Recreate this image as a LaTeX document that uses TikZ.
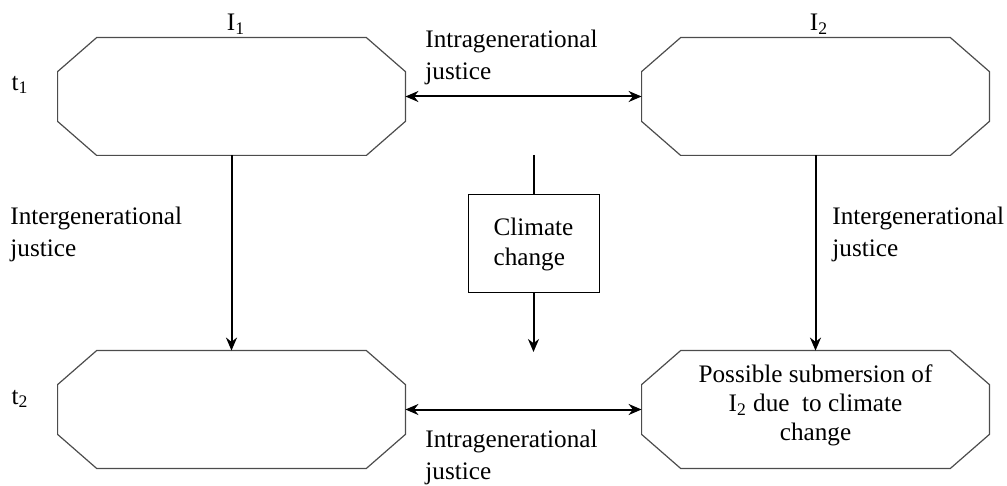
\documentclass[tikz,border=0pt]{standalone}
\usepackage{fontspec}
\setmainfont{Liberation Serif}
\usetikzlibrary{arrows.meta}

\begin{document}
\begin{tikzpicture}[x=0.5pt,y=-0.5pt]
	% Stiler for elementene
	\tikzstyle{generasjon}	= [rectangle, minimum width=173.5pt, minimum height=58.5pt, inner sep=0pt, align=center, font=\fontsize{12.6}{14.5}\selectfont]
	\tikzstyle{ramme}		= [draw=black!70, line width=0.6pt]
	\tikzstyle{klima}		= [rectangle, draw, line width=0.5pt, minimum width=65.5pt, minimum height=49pt, align=left, font=\fontsize{12.6}{15}\selectfont]
	\tikzstyle{tekst}		= [align=left, inner sep=0pt, font=\fontsize{12.6}{16}\selectfont]
	\tikzstyle{pil}			= [line width=1pt, {Stealth[length=6.5pt,width=5.5pt]}-{Stealth[length=6.5pt,width=5.5pt]}]
	\tikzstyle{enpil}		= [line width=1pt, -{Stealth[length=6.5pt,width=5.5pt]}]

	\useasboundingbox (0,0) rectangle (1007,486);

	% Generasjonene
	\node[generasjon]	(i1_t1)	at (231.5,96.5)								{};
	\node[generasjon]	(i2_t1)	[right of=i1_t1, node distance=292pt]		{};
	\node[generasjon]	(i1_t2)	[below of=i1_t1, node distance=156.5pt]		{};
	\node[generasjon]	(i2_t2)	[right of=i1_t2, node distance=292pt]		{};
	\node[generasjon, minimum width=0pt, minimum height=0pt] (i2_t2_tekst) at ([yshift=2pt]i2_t2.center) {Possible submersion of\\ I\textsubscript{2} due\ \ to climate\\ change};

	% Aattekantene rundt generasjonene
	\foreach \n in {i1_t1,i2_t1,i1_t2,i2_t2}
		\draw[ramme] ([xshift=19.5pt]\n.north west) -- ([xshift=-19.5pt]\n.north east) -- ([yshift=-17pt]\n.north east)
			-- ([yshift=17pt]\n.south east) -- ([xshift=-19.5pt]\n.south east) -- ([xshift=19.5pt]\n.south west)
			-- ([yshift=17pt]\n.south west) -- ([yshift=-17pt]\n.north west) -- cycle;

	% Klimaendring i midten
	\node[klima]		(klima)	at (533.5,244)		{Climate\\ change};
	\coordinate (klima_inn)	at (533.5,155);
	\coordinate (klima_ut)	at (533.5,352);

	% Piler
	\draw[pil]	(i1_t1) -- (i2_t1);
	\draw[pil]	(i1_t2) -- (i2_t2);
	\draw[enpil]	(i1_t1) -- (i1_t2);
	\draw[enpil]	(i2_t1) -- (i2_t2);
	\draw[line width=1pt]	(klima_inn) -- (klima);
	\draw[enpil]	(klima) -- (klima_ut);

	% Tekst rundt
	\node (i1_tekst)	at (236,24)		{\fontsize{12.6}{15}\selectfont I\textsubscript{1}};
	\node (i2_tekst)	at (819,24)		{\fontsize{12.6}{15}\selectfont I\textsubscript{2}};
	\node (t1_tekst)	at (20,85)		{\fontsize{12.6}{15}\selectfont t\textsubscript{1}};
	\node (t2_tekst)	at (20,399)		{\fontsize{12.6}{15}\selectfont t\textsubscript{2}};
	\node[tekst, anchor=west] (intra_topp)	at (425,57)		{Intragenerational\\ justice};
	\node[tekst, anchor=west] (intra_bunn)	at (425,457)	{Intragenerational\\ justice};
	\node[tekst, anchor=west] (inter_v)		at (10,234)		{Intergenerational\\ justice};
	\node[tekst, anchor=west] (inter_h)		at (832,234)	{Intergenerational\\ justice};
\end{tikzpicture}
\end{document}
